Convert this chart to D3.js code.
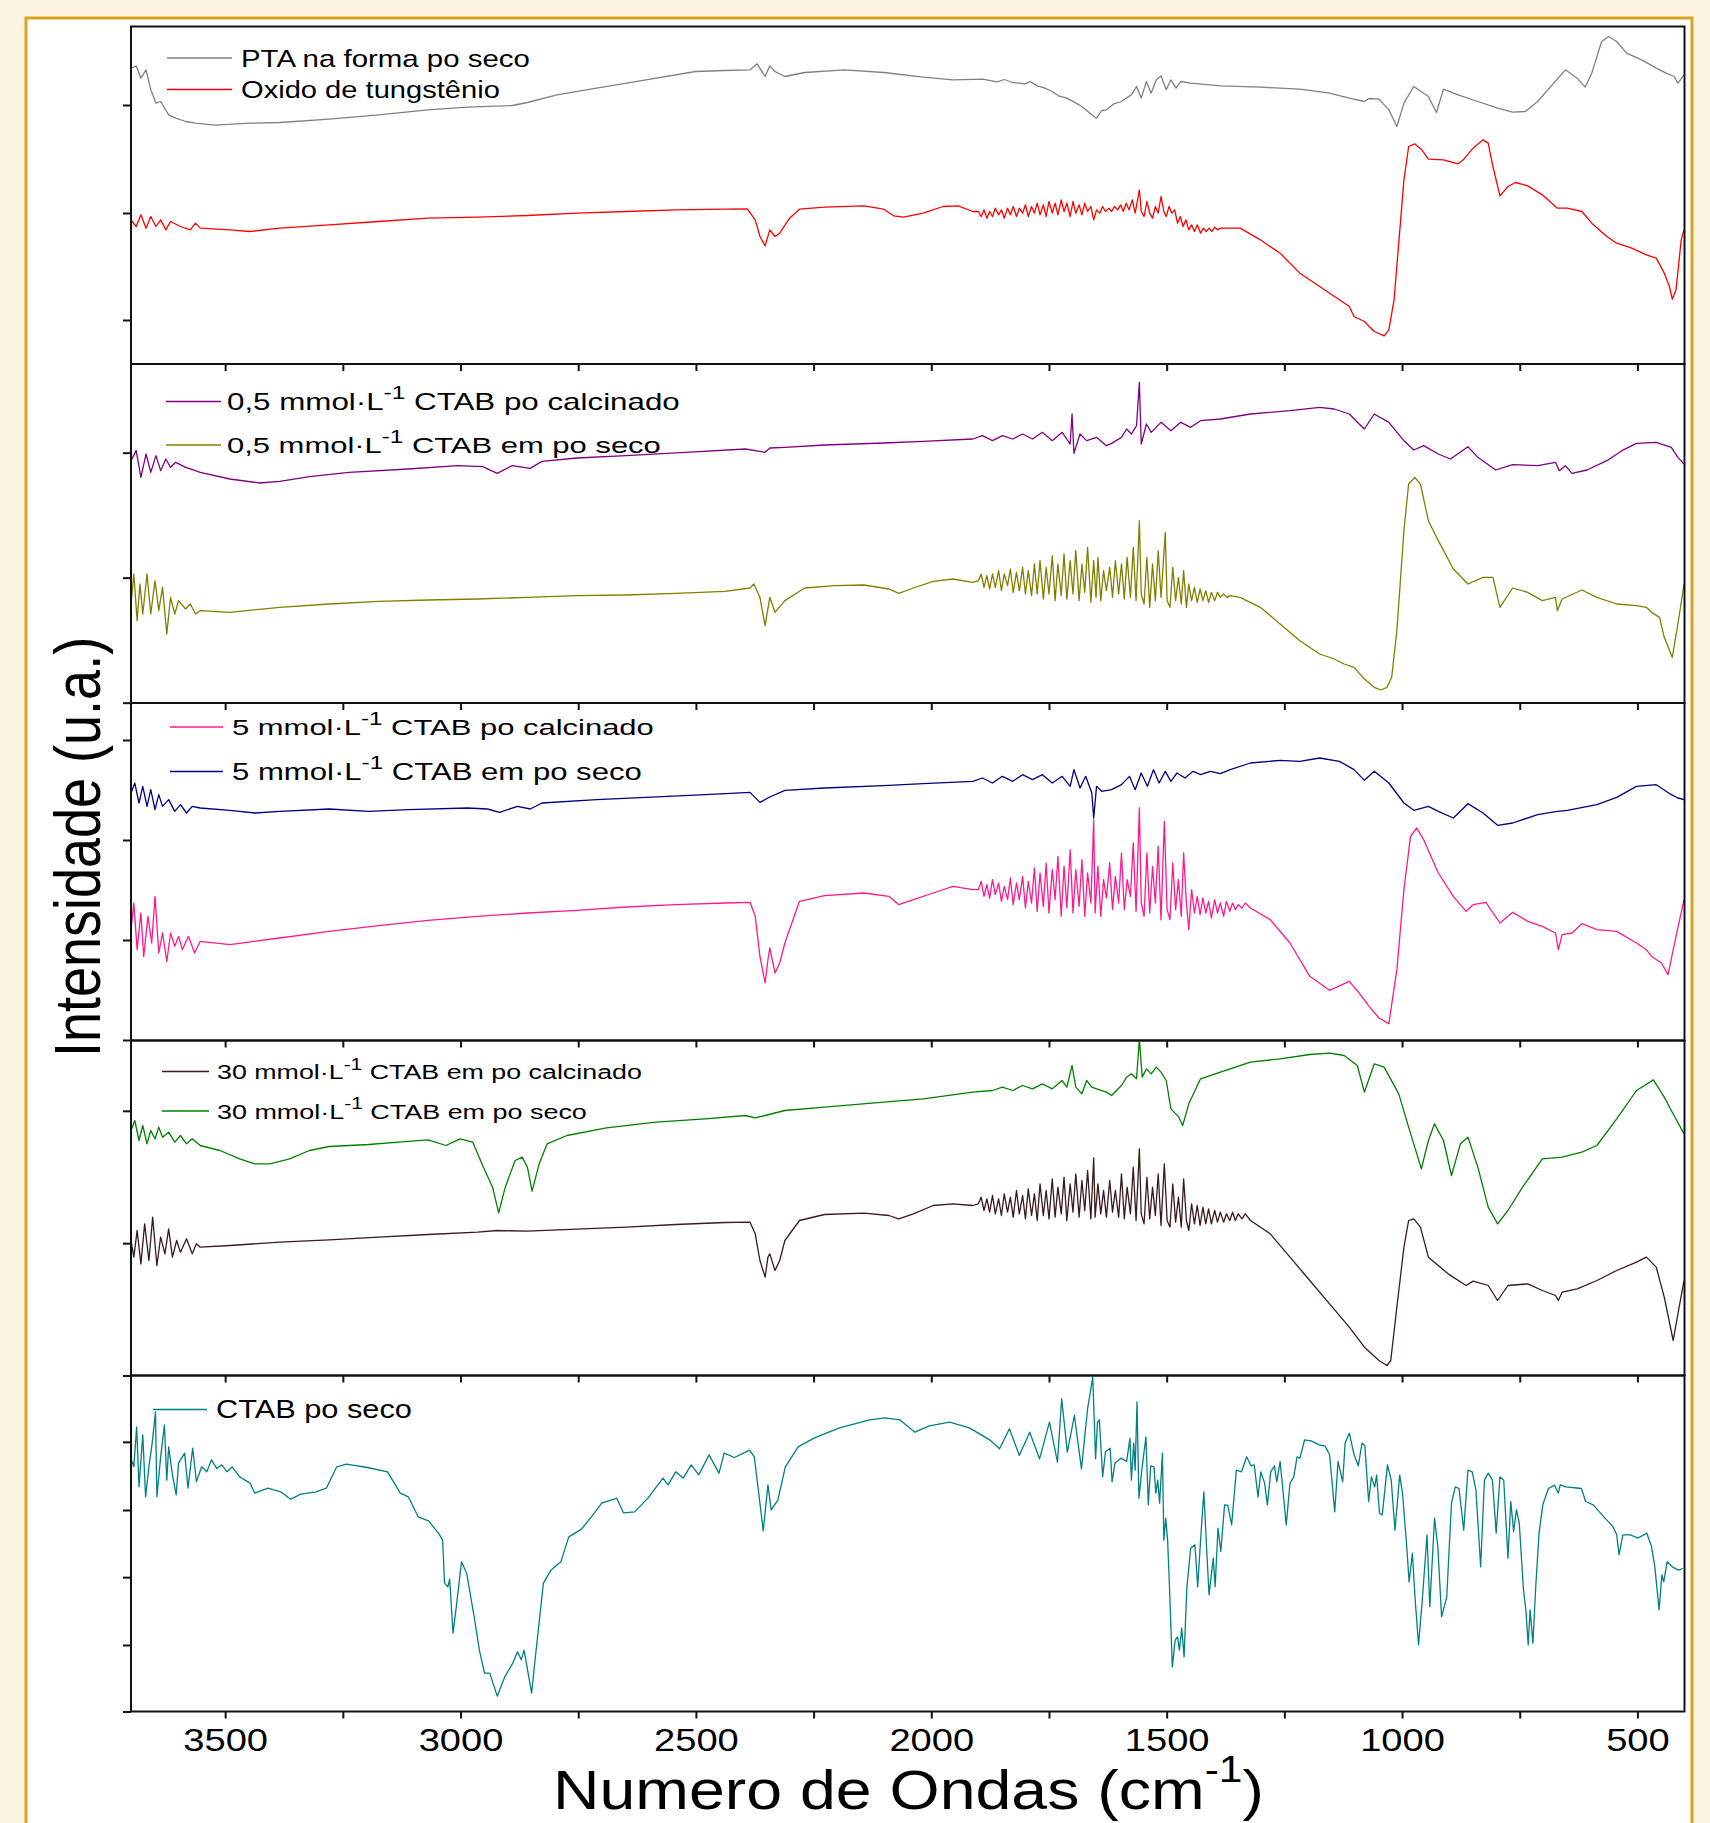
<!DOCTYPE html>
<html><head><meta charset="utf-8">
<script src="https://cdn.jsdelivr.net/npm/d3@7"></script>
<style>
html,body{margin:0;padding:0;background:#fbf4e2;}
svg{display:block;}
text{font-family:"Liberation Sans",Arial,sans-serif;fill:#000;}
</style></head><body>
<svg id="chart" width="1710" height="1823"></svg>
<script>
// ---------------- DATA (wavenumber cm-1, intensity a.u.) ----------------
const xDomain = [3700, 400];
const xTickValues = [3500,3250,3000,2750,2500,2250,2000,1750,1500,1250,1000,750,500];
const xTickLabels = [3500,3000,2500,2000,1500,1000,500];
const yTicksP1 = [11.95, 44.05, 76.45];
const yTicksP2 = [-1.6, 35.9, 73.4];
const yTicksP3 = [-1.1, 28.9, 58.9, 88.9];
const yTicksP4 = [-0.5, 39.2, 78.9];
const yTicksP5 = [-0.8, 19.15, 39.5, 59.65, 80.1];

const ptaSeco = [[3700,87.5],[3689,88.2],[3679,84.5],[3668,87],[3658,81],[3647,77],[3637,77.5],[3620,73.5],[3605,72.5],[3584,71.5],[3563,71],[3521,70.4],[3448,71],[3384,71.2],[3279,72.2],[3174,73.5],[3069,75],[2985,75.8],[2890,76.3],[2858,77.2],[2795,79.5],[2711,81.5],[2606,84],[2501,86.5],[2438,86.8],[2385,87],[2370,88.8],[2353,85],[2343,88.2],[2332,86.5],[2311,85],[2269,86.2],[2185,87],[2101,86.2],[2017,84.8],[1954,84],[1891,84.2],[1860,83.4],[1845,84.1],[1827,83.2],[1800,82.8],[1790,83.5],[1775,82.2],[1760,81.6],[1743,80.5],[1730,79.2],[1712,78.5],[1700,77.6],[1680,76],[1668,74.6],[1659,73.5],[1649,72.5],[1638,74.8],[1628,75],[1612,76.8],[1596,77.5],[1585,78.6],[1575,79.5],[1564,82],[1554,78.5],[1543,83.5],[1533,80],[1522,84],[1512,85.2],[1501,81],[1491,84],[1480,81.5],[1470,83.5],[1449,83],[1386,82.2],[1301,81.8],[1217,81.2],[1154,80],[1112,78.5],[1080,77.5],[1070,78.4],[1049,78.2],[1028,75],[1011,70],[996,77],[975,82],[944,79],[927,74.2],[912,81.2],[881,79.5],[839,77.5],[797,75.5],[765,74.3],[738,74.5],[712,77.5],[681,82.5],[653,87],[628,84.5],[611,81.8],[597,86],[576,95.5],[561,97],[544,95.5],[523,92],[491,90],[460,87.5],[439,86],[422,85],[414,83],[401,85.5]];

const oxidoTungstenio = [[3700,42],[3689,40],[3679,43.5],[3668,39.5],[3658,43],[3647,40],[3637,42],[3626,39],[3616,41.5],[3595,40],[3574,39],[3563,41],[3553,39.5],[3490,39],[3448,38.5],[3384,39.5],[3279,40.5],[3174,41.5],[3069,42.5],[2964,42.8],[2858,43.3],[2753,44],[2648,44.5],[2543,45],[2438,45.2],[2391,45.3],[2374,42],[2364,37],[2353,34.2],[2343,39],[2332,37],[2322,38],[2301,42.5],[2280,45.2],[2227,45.8],[2143,46.2],[2101,45.2],[2080,43.2],[2059,42.8],[2017,44],[1975,46],[1943,46.2],[1912,44.5],
[1900,44.5],[1894,43],[1888,45],[1882,42.5],[1876,44.5],[1870,43],[1864,45.5],[1857,43.5],[1851,45],[1845,42.5],[1838,45.5],[1832,43.5],[1826,46],[1819,43],[1813,45.5],[1806,44],[1800,46.5],[1794,43],[1787,46],[1781,44],[1775,47],[1769,43.5],[1762,46.5],[1756,43],[1750,47.5],[1743,44],[1737,47],[1731,43.5],[1724,48],[1718,44.5],[1712,47],[1705,43],[1699,47.5],[1693,44],[1686,46.5],[1680,43.5],[1674,47],[1668,44.5],[1661,46],[1655,42],[1649,45],[1642,44],[1636,46],[1630,44.5],[1623,45.5],[1617,44.5],[1611,46],[1604,45],[1598,46.5],[1592,44.5],[1586,47],[1580,45],[1573,48],[1567,44],[1561,48.5],[1558,51],[1554,44.5],[1548,43],[1542,47.5],[1536,44],[1530,42.5],[1524,46],[1518,44],[1512,49],[1506,44.5],[1501,43],[1495,46],[1489,44],[1483,45],[1477,41],[1471,43],[1465,40],[1459,42],[1453,39],[1447,40.5],[1441,38.5],[1435,40.5],[1428,38],[1422,39.5],[1416,38.5],[1410,39.5],[1404,38.5],[1398,39.8],[1392,39],[1386,39.5],
[1344,39.5],[1301,36],[1259,32],[1217,26],[1175,22],[1133,18],[1112,16],[1102,13],[1080,11.5],[1059,8.5],[1038,7.2],[1028,9],[1017,18],[1007,35],[996,54],[986,64],[973,64.8],[958,63],[944,60.2],[912,60],[881,58.8],[870,60],[849,63.5],[828,66],[817,65],[807,58],[792,49.2],[775,52],[759,53.2],[733,52.2],[702,49.5],[670,45.5],[649,45.5],[618,44.5],[597,41],[565,37],[544,35],[512,33.5],[481,31.5],[460,30.5],[443,26],[432,22],[426,18.2],[418,21],[407,36],[401,39]];

const ctab05Calc = [[3700,71],[3689,74],[3679,66],[3668,73],[3658,67.5],[3647,72.5],[3637,68],[3626,71.5],[3616,69],[3605,70.5],[3584,69],[3563,68],[3553,67.5],[3490,65.5],[3426,64.3],[3384,64.8],[3321,66.2],[3237,67.5],[3111,68.5],[3006,69.5],[2953,69.2],[2922,67.2],[2890,69.5],[2852,68.7],[2827,70.8],[2753,71.8],[2648,72.5],[2522,73.5],[2395,74.5],[2353,73.5],[2343,74.8],[2311,75],[2227,75.7],[2101,76.3],[2017,76.8],[1912,77.5],[1891,78.5],[1870,77],[1849,78.5],[1827,77.5],[1806,79],[1785,77.5],[1764,79.5],[1743,77],[1722,79.5],[1705,76],[1701,85],[1697,73.2],[1684,79],[1670,77],[1649,78],[1628,75.5],[1617,76.2],[1596,78],[1585,80.5],[1575,79],[1564,81.5],[1558,94.5],[1554,76],[1543,82],[1533,79.5],[1512,82.5],[1491,80],[1470,82.5],[1449,81],[1428,83],[1386,83.5],[1322,85],[1238,86],[1175,87],[1144,86.5],[1112,85],[1091,82],[1080,80.5],[1059,85],[1028,82.5],[996,77],[975,74.2],[954,75.5],[923,73],[897,71.5],[860,75.2],[839,72],[801,68.2],[765,69.8],[712,69.5],[674,70.5],[666,68],[653,69.5],[639,67.2],[607,68.2],[565,71],[533,74],[502,76.2],[460,76.5],[428,75],[414,72],[401,70]];

const ctab05Seco = [[3700,28],[3694,37],[3687,23],[3681,34],[3675,25],[3666,37],[3658,25],[3649,35],[3641,26],[3633,33],[3624,19],[3616,30],[3607,25],[3599,29],[3584,26.5],[3574,28],[3563,25],[3553,26],[3490,25.5],[3384,27],[3279,28],[3174,28.8],[3069,29.2],[2964,29.5],[2858,30],[2753,30.5],[2648,30.7],[2543,31.2],[2438,31.8],[2385,32.8],[2377,34],[2364,30],[2353,21.5],[2343,30],[2332,25.5],[2311,29],[2269,32.8],[2206,33.5],[2143,33.7],[2090,32.5],[2069,31.2],[2038,32.8],[1996,34.8],[1954,35.5],[1912,34.5],
[1900,35],[1894,37],[1888,33],[1882,36.5],[1876,32.5],[1870,37],[1864,33],[1857,38],[1851,32],[1845,37],[1838,33.5],[1832,38.5],[1826,31.5],[1819,37.5],[1813,32],[1806,39],[1800,31],[1794,38],[1787,30.5],[1781,40],[1775,31],[1769,41],[1762,29.5],[1756,39],[1750,31],[1743,42.5],[1737,29],[1731,40],[1724,30.5],[1718,43],[1712,29.5],[1705,41],[1699,31],[1693,44],[1686,29],[1680,40],[1674,31.5],[1668,45],[1661,28.5],[1655,41],[1650,30],[1646,42],[1640,29],[1634,38],[1628,32],[1621,39],[1615,30],[1609,41],[1602,31],[1596,40],[1590,29.5],[1584,42],[1577,30],[1571,45],[1565,29],[1558,53],[1554,31],[1548,28],[1542,42],[1536,27],[1530,40],[1524,29],[1518,44],[1512,30],[1503,49.5],[1499,29],[1493,27],[1487,39],[1481,29],[1475,36],[1469,28],[1464,38],[1458,27],[1453,34],[1447,29],[1441,33],[1435,28.5],[1429,32.5],[1423,29],[1417,32],[1411,28.5],[1405,31.5],[1398,29],[1392,31.5],[1386,30],[1379,31],[1372,30],[1365,30.5],
[1344,30],[1301,27],[1259,22],[1217,17],[1175,13],[1144,11.5],[1123,10],[1102,9],[1080,5.5],[1059,3],[1045,2.2],[1032,3],[1022,6],[1011,20],[996,50],[986,64],[973,66],[961,64],[944,53],[923,47],[891,38.5],[860,34],[828,36],[807,36],[792,27],[765,32.8],[733,31.5],[702,29],[674,30],[670,26],[660,29.5],[618,32.2],[586,30],[544,28],[502,27.5],[481,27],[470,25.5],[453,24],[443,18],[426,12],[414,22],[401,34]];

const ctab5Seco = [[3700,73],[3692,76],[3683,70],[3675,75],[3666,69],[3658,74],[3649,68],[3641,72.5],[3633,69],[3620,71],[3607,67.5],[3595,69.5],[3582,67],[3570,69],[3553,68.5],[3490,67.8],[3437,67],[3384,67.5],[3279,68.2],[3195,67.5],[3111,68],[2985,68.5],[2943,68.2],[2917,67.2],[2879,69],[2852,68.2],[2827,70],[2711,71],[2606,71.7],[2480,72.5],[2385,73.2],[2364,70.2],[2343,71.8],[2311,73.8],[2227,74.5],[2101,75.2],[2017,75.8],[1912,76.5],[1891,77.5],[1870,76],[1849,78],[1827,76.5],[1806,78.5],[1785,77],[1764,78.5],[1743,76],[1722,78],[1705,75],[1697,80],[1684,74.5],[1672,78],[1659,73],[1655,65.5],[1649,75],[1638,73.5],[1617,74],[1596,75.5],[1579,78],[1567,74],[1554,79],[1541,75],[1528,80],[1516,76],[1503,79.5],[1491,76.5],[1478,79],[1461,77.5],[1444,79.5],[1428,78.5],[1407,79.5],[1386,78.8],[1365,80],[1322,82],[1259,82.8],[1217,82.5],[1175,83.5],[1133,82.5],[1102,80],[1080,76.8],[1059,79.5],[1028,76],[996,70],[975,67.8],[944,69],[923,67.5],[891,65.5],[860,69.8],[828,67],[797,63.3],[765,64],[712,66.5],[670,67.5],[649,67.8],[586,69.5],[544,71.7],[502,75],[460,75.5],[428,72.5],[414,71.5],[401,71]];

const ctab5Calc = [[3700,32],[3694,40],[3687,26],[3679,37],[3673,24],[3664,36],[3656,28],[3649,42],[3641,25],[3633,31],[3624,22.5],[3616,31],[3607,27],[3599,30],[3591,26],[3578,30],[3565,25],[3553,28.5],[3490,27.5],[3384,29.5],[3279,31.5],[3174,33.2],[3069,34.8],[2964,36],[2858,37],[2753,37.8],[2648,38.8],[2543,39.5],[2438,40],[2385,40.2],[2374,36],[2364,24],[2353,16],[2347,23],[2343,26.5],[2332,19],[2322,22],[2311,28],[2280,40.5],[2227,42.2],[2143,43],[2090,42],[2069,39.5],[2038,41],[1996,43],[1954,45],[1912,44],
[1900,44],[1894,46.5],[1888,42],[1882,45.5],[1876,41.5],[1870,47],[1864,42.5],[1857,46],[1851,40.5],[1845,45],[1838,41],[1832,47.5],[1826,39.5],[1819,46],[1813,41],[1806,48],[1800,38.5],[1794,46.5],[1787,40],[1781,50.5],[1775,37.5],[1769,49],[1762,39],[1756,52],[1750,37],[1743,50],[1737,41],[1731,54],[1724,36],[1718,51],[1712,38.5],[1705,56],[1699,37],[1693,50],[1686,39],[1680,53],[1674,36],[1668,49],[1661,40],[1655,65],[1652,37],[1646,51],[1640,36],[1634,47],[1628,41.5],[1621,52],[1615,38],[1609,48],[1602,40],[1596,55],[1590,38],[1584,47],[1577,42],[1571,58],[1565,37.5],[1558,68.5],[1554,40],[1548,36],[1542,55],[1536,37],[1530,51],[1524,40],[1518,57],[1512,35],[1505,64.5],[1499,38],[1493,35],[1487,52],[1481,38],[1475,47],[1469,36],[1464,55],[1458,40],[1453,32],[1447,44],[1441,37],[1435,42],[1429,36.5],[1423,41.5],[1417,37],[1411,40.5],[1405,35.5],[1398,41],[1392,37],[1386,40],[1379,36],[1373,40.5],[1366,37.5],[1360,40],[1354,38],[1348,39.5],[1340,38.5],[1333,40],[1322,38.5],
[1280,35],[1238,28],[1196,18],[1154,13.8],[1112,16.5],[1091,13],[1070,9],[1049,5.5],[1028,3.8],[1011,20],[996,44],[982,60],[969,62.5],[954,59],[923,49],[891,42],[864,37.5],[849,39.5],[822,40.2],[792,34],[765,37.2],[733,34.5],[702,33],[674,31],[668,26],[660,30.5],[639,31],[618,33.8],[586,32],[544,31.5],[502,28],[481,26],[470,24],[449,22],[435,18.5],[418,30],[401,41]];

const ctab30Seco = [[3700,73],[3692,76],[3683,70],[3675,74.5],[3666,69],[3658,73],[3649,70.5],[3641,74],[3633,71],[3620,72.5],[3607,69.5],[3595,71.5],[3582,69],[3570,70.5],[3553,68.5],[3511,67],[3469,64.5],[3437,63],[3405,63],[3363,64.5],[3321,67],[3279,68.2],[3195,68.8],[3132,69.5],[3069,70.2],[3031,68.5],[3001,70.5],[2974,69.5],[2953,62.5],[2932,56],[2919,48.3],[2905,56],[2884,64],[2869,65],[2858,62],[2848,54.8],[2833,63],[2816,69],[2774,71.5],[2690,73.8],[2585,75.5],[2480,76.5],[2395,77.5],[2374,76.8],[2353,77.5],[2311,79],[2227,80],[2101,81.5],[2017,82.5],[1912,84.5],[1870,85],[1849,86],[1827,85],[1806,86.5],[1785,85.5],[1764,87],[1743,85.5],[1722,88],[1712,86],[1701,92.5],[1693,86],[1680,84],[1670,88],[1659,86],[1649,85.5],[1628,84.5],[1617,83.5],[1596,86.5],[1585,89],[1575,90],[1564,88.5],[1558,100.5],[1552,89],[1543,91.5],[1533,90],[1522,92],[1512,90.5],[1501,88],[1491,79.5],[1474,77],[1466,74.5],[1453,81],[1428,88.5],[1386,90.5],[1322,93.5],[1259,94.5],[1196,95.8],[1154,96.2],[1123,95.5],[1095,92.5],[1080,84.5],[1059,93],[1038,92],[1007,84],[986,74],[959,61.5],[944,70],[931,75],[912,70],[895,59.5],[876,69],[860,71],[839,62],[817,50],[797,45],[775,49],[744,56],[702,64.5],[660,65],[618,66.5],[586,68.5],[544,76.5],[502,85],[466,88.2],[443,83],[428,79],[401,72]];

const ctab30Calc = [[3700,40],[3694,35],[3687,43],[3679,33],[3671,45],[3662,34],[3654,47],[3645,32.5],[3637,41],[3628,36],[3620,43.5],[3612,35],[3603,40],[3595,36.5],[3582,40.5],[3570,36],[3561,39],[3553,38],[3490,38.5],[3384,39.5],[3279,40.2],[3174,41],[3069,41.8],[2964,42.5],[2922,43],[2858,42.8],[2753,43.4],[2648,44],[2543,44.8],[2438,45.4],[2385,45.5],[2374,42],[2364,34],[2353,29],[2347,35],[2343,36],[2332,31],[2322,34],[2311,40],[2280,46],[2227,47.8],[2143,48.2],[2090,47.5],[2069,46.5],[2038,48],[1996,50.5],[1954,51],[1912,50.5],
[1900,51],[1894,53],[1888,49],[1882,52.5],[1876,48.5],[1870,53.5],[1864,48],[1857,52.5],[1851,47.5],[1845,54],[1838,48.5],[1832,53],[1826,47],[1819,55],[1813,48],[1806,53.5],[1800,46.5],[1794,55.5],[1787,47.5],[1781,54],[1775,46],[1769,57],[1762,47.5],[1756,55],[1750,46.5],[1743,58.5],[1737,47],[1731,56],[1724,48],[1718,59],[1712,46],[1705,57],[1699,48.5],[1693,60],[1686,47],[1680,58],[1674,49],[1668,61],[1661,46.5],[1655,64.8],[1652,47],[1646,57],[1640,48],[1634,55],[1628,47],[1621,58],[1615,48.5],[1609,55],[1602,47],[1596,60],[1590,46.5],[1584,56],[1577,48],[1571,62],[1565,46],[1558,67.5],[1554,48],[1548,45],[1542,59],[1536,46.5],[1530,56],[1524,47.5],[1518,60],[1512,44.5],[1505,63],[1499,46],[1493,44],[1487,57],[1481,45.5],[1475,53],[1469,44],[1464,58.5],[1458,46],[1453,43],[1447,51],[1441,45],[1435,50.5],[1429,44.5],[1423,50],[1417,45],[1411,49.5],[1405,45],[1398,49],[1392,45.5],[1386,48.5],[1379,45.5],[1373,48],[1366,46],[1360,48.5],[1354,46],[1348,48],[1340,46.5],[1333,48],[1322,46],
[1280,42],[1238,35],[1196,28],[1154,21],[1112,14],[1080,8],[1049,4],[1032,2.5],[1024,4],[1011,20],[996,38],[986,46],[975,46.5],[961,44],[944,35],[902,30],[864,26.5],[849,27.8],[817,26.5],[797,22],[775,26.5],[733,27],[702,25],[674,23.5],[668,22],[660,24.5],[628,25.5],[586,28],[544,31],[502,33.5],[481,35],[460,32],[443,23],[424,10],[414,18],[401,28]];

const ctabSeco = [[3700,75],[3694,72.6],[3688,84.6],[3683,66.6],[3675,82.2],[3669,63.6],[3662,72.6],[3655,79.7],[3648,89.1],[3645,63.6],[3637,75.6],[3629,85.2],[3624,68.6],[3620,78.6],[3612,70.2],[3604,64.2],[3599,73.7],[3586,76.7],[3579,66.2],[3569,78.2],[3561,68.1],[3550,72.6],[3539,71.1],[3529,74.7],[3518,72.1],[3507,73.2],[3496,71.1],[3485,72.6],[3469,69.6],[3447,67.7],[3437,64.7],[3409,66.2],[3382,65.1],[3361,62.9],[3339,64.4],[3307,65.1],[3285,66.2],[3263,72.6],[3242,73.4],[3198,72.4],[3155,71.1],[3128,64.7],[3111,63.6],[3090,57.6],[3068,56.4],[3047,52.7],[3038,50.6],[3034,37.7],[3027,36.6],[3023,38.9],[3016,22.7],[3009,30.6],[2998,44.1],[2987,40.7],[2971,27.6],[2960,17.6],[2949,10.7],[2938,10.7],[2922,3.8],[2906,9.6],[2889,13.7],[2879,17.1],[2871,14.7],[2865,17.6],[2849,4.7],[2841,15.6],[2824,37.7],[2808,41.6],[2787,44.1],[2770,51.6],[2743,53.9],[2722,57.6],[2700,61.7],[2668,63.2],[2654,58.8],[2630,59.1],[2602,63.2],[2570,69.2],[2559,67.2],[2543,71.1],[2527,69.2],[2510,73.2],[2494,70.2],[2472,76.2],[2451,70.7],[2440,76.7],[2418,75.4],[2386,77.6],[2376,75.6],[2364,61.7],[2357,53.4],[2351,61.7],[2347,67.2],[2340,59.7],[2326,62.6],[2310,72.6],[2283,78.6],[2248,81.3],[2195,84.3],[2131,86.7],[2099,87.3],[2067,86.7],[2035,83],[2004,84.9],[1961,86],[1919,84.3],[1876,80.7],[1855,78],[1834,84],[1813,76],[1791,83],[1770,75],[1749,86],[1732,74],[1723,93],[1711,77],[1696,88],[1681,72],[1668,90],[1657,99.5],[1651,75],[1647,86],[1643,86.7],[1636,69.6],[1630,77.1],[1620,78.2],[1616,68.1],[1610,73.7],[1597,75.2],[1585,74.2],[1578,81.2],[1575,68.6],[1570,79.7],[1567,71.6],[1563,92.1],[1559,63.2],[1552,72.6],[1544,81.6],[1539,61.2],[1534,72.9],[1527,72.6],[1523,64.7],[1519,68.6],[1515,61.7],[1509,76.7],[1506,50.6],[1502,57.2],[1498,50.6],[1494,36.6],[1488,12.6],[1482,20.6],[1477,21.6],[1473,17.6],[1468,24.2],[1463,15.6],[1457,36.6],[1449,48.2],[1440,49.2],[1434,36.6],[1428,50.6],[1421,65.1],[1416,50.6],[1410,34.2],[1401,45.2],[1397,36.6],[1391,54.2],[1385,47.2],[1377,61.2],[1370,61],[1362,55.2],[1352,71.6],[1341,71.1],[1330,75.6],[1321,72.9],[1314,73.2],[1306,63.6],[1300,71.1],[1292,67.7],[1286,61.2],[1279,71.1],[1271,72.9],[1266,68.1],[1259,74.2],[1246,55.2],[1238,67.7],[1230,69.6],[1223,75.6],[1217,75.2],[1207,80.7],[1193,80.4],[1176,79.2],[1164,78.9],[1154,76.3],[1149,68.6],[1143,59.1],[1136,74.2],[1126,68.1],[1121,79.7],[1112,82.7],[1102,76.3],[1093,72.9],[1085,79.7],[1079,78.9],[1071,62.2],[1065,69.6],[1058,66.6],[1054,70.2],[1048,58.7],[1042,58.2],[1031,73.2],[1023,68.6],[1015,53.6],[1005,70.1],[999,64.7],[990,48.6],[985,38.1],[978,46.7],[972,32.6],[965,19.2],[957,32.6],[947,52.2],[941,30.6],[931,57.2],[924,48.6],[916,27.6],[905,33.6],[895,61.7],[887,66.6],[879,66.1],[869,53.6],[860,71.6],[851,71.1],[843,65.6],[833,42.6],[825,68.6],[817,70.7],[808,68.6],[800,52.7],[792,69.6],[784,68.6],[775,45.2],[769,62.2],[763,53.2],[757,59.7],[751,55.7],[742,35.6],[737,29.7],[732,19.2],[728,29.7],[722,19.7],[716,36.6],[709,52.7],[701,61.2],[689,66.1],[676,67.1],[668,64.7],[664,67.2],[652,66.6],[619,66.1],[610,62.2],[594,61.2],[569,57.2],[552,54.7],[544,52.2],[539,46.2],[531,52.2],[515,52.2],[499,51.2],[480,52.7],[470,48.6],[463,42.6],[454,29.7],[448,40.2],[444,38.1],[437,44.1],[426,42.6],[413,41.6],[404,42.1]];

// ---------------- LAYOUT ----------------
const W = 1710, H = 1823;
const plotLeft = 131, plotRight = 1684.5;
const panelEdges = [26.5, 364, 703, 1040.5, 1375.5, 1711.5];
const unitPerPx = 0.3;
const SX = 1.19; // horizontal text stretch of the original figure

const panels = [
  {ticks: yTicksP1, font: 24, lx1: 167, lx2: 232, tx: 241, series: [
    {data: ptaSeco, color: "#808080", pre: "PTA na forma po seco", sup: null, post: "", ly: 58, tw: 289},
    {data: oxidoTungstenio, color: "#ff0000", pre: "Oxido de tungstênio", sup: null, post: "", ly: 89.5, tw: 259}]},
  {ticks: yTicksP2, font: 23, lx1: 166, lx2: 221, tx: 227, series: [
    {data: ctab05Calc, color: "#800080", pre: "0,5 mmol·L", sup: "-1", post: " CTAB  po calcinado", ly: 401.5, tw: 453},
    {data: ctab05Seco, color: "#808000", pre: "0,5 mmol·L", sup: "-1", post: " CTAB em po seco", ly: 445, tw: 434}]},
  {ticks: yTicksP3, font: 23, lx1: 170, lx2: 223, tx: 232, series: [
    {data: ctab5Calc, color: "#ff1a8c", pre: "5 mmol·L", sup: "-1", post: " CTAB po calcinado", ly: 727, tw: 422},
    {data: ctab5Seco, color: "#000080", pre: "5 mmol·L", sup: "-1", post: " CTAB em po seco", ly: 771.5, tw: 410}]},
  {ticks: yTicksP4, font: 21, lx1: 162, lx2: 209, tx: 217, series: [
    {data: ctab30Calc, color: "#3b1a1a", pre: "30 mmol·L", sup: "-1", post: " CTAB em po calcinado", ly: 1071.5, tw: 425},
    {data: ctab30Seco, color: "#008000", pre: "30 mmol·L", sup: "-1", post: " CTAB em po seco", ly: 1111, tw: 370}]},
  {ticks: yTicksP5, font: 25, lx1: 153, lx2: 207, tx: 216, series: [
    {data: ctabSeco, color: "#008080", pre: "CTAB po seco", sup: null, post: "", ly: 1409.5, tw: 196}]}
];

const svg = d3.select("#chart");
svg.append("rect").attr("width", W).attr("height", H).attr("fill", "#fbf4e2");
svg.append("rect").attr("x", 26).attr("y", 18).attr("width", 1666).attr("height", 1840)
   .attr("fill", "#ffffff").attr("stroke", "#d9a521").attr("stroke-width", 3);

const x = d3.scaleLinear().domain(xDomain).range([plotLeft, plotRight]);
const defs = svg.append("defs");

function stretch(sel, ax, target) {
  const w = sel.node().getBBox().width;
  const s = target ? target / w : SX;
  sel.attr("transform", `translate(${ax},0) scale(${s},1) translate(${-ax},0)`);
}

panels.forEach((p, i) => {
  const top = panelEdges[i], bottom = panelEdges[i + 1];
  const vBottom = 100 - (bottom - top) * unitPerPx;
  const y = d3.scaleLinear().domain([vBottom, 100]).range([bottom, top]);
  const g = svg.append("g");

  defs.append("clipPath").attr("id", "clip" + i).append("rect")
    .attr("x", plotLeft).attr("y", top).attr("width", plotRight - plotLeft).attr("height", bottom - top);

  // legend
  p.series.forEach(s => {
    g.append("line").attr("x1", p.lx1).attr("x2", p.lx2).attr("y1", s.ly).attr("y2", s.ly)
      .attr("stroke", s.color).attr("stroke-width", 1.5);
    const t = g.append("text").attr("x", p.tx).attr("y", s.ly + p.font * 0.36).attr("font-size", p.font);
    t.append("tspan").text(s.pre);
    if (s.sup) {
      t.append("tspan").attr("dy", -p.font * 0.45).attr("font-size", p.font * 0.78).text(s.sup);
      t.append("tspan").attr("dy", p.font * 0.45).attr("font-size", p.font).text(s.post);
    }
    stretch(t, p.tx, s.tw);
  });

  // curves
  const line = d3.line().x(d => x(d[0])).y(d => y(d[1]));
  p.series.forEach(s => {
    const data = d3.sort(s.data, (a, b) => b[0] - a[0]);
    g.append("path").datum(data).attr("d", line).attr("fill", "none")
      .attr("stroke", s.color).attr("stroke-width", 1.3).attr("stroke-linejoin", "round")
      .attr("clip-path", `url(#clip${i})`);
  });

  // frame
  g.append("rect").attr("x", plotLeft).attr("y", top).attr("width", plotRight - plotLeft).attr("height", bottom - top)
    .attr("fill", "none").attr("stroke", "#111").attr("stroke-width", 2);

  // y ticks
  const ya = g.append("g").attr("transform", `translate(${plotLeft},0)`)
    .call(d3.axisLeft(y).tickValues(p.ticks).tickSize(8).tickFormat(""));
  ya.select(".domain").remove();
  ya.selectAll(".tick line").attr("stroke", "#111").attr("stroke-width", 2);

  // x ticks
  const isLast = i === panels.length - 1;
  const xa = g.append("g").attr("transform", `translate(0,${bottom})`)
    .call(d3.axisBottom(x).tickValues(xTickValues).tickSize(7).tickPadding(10)
      .tickFormat(d => (isLast && xTickLabels.includes(d)) ? String(d) : ""));
  xa.select(".domain").remove();
  xa.selectAll(".tick line").attr("stroke", "#111").attr("stroke-width", 2);
  xa.selectAll(".tick text").attr("font-size", 32).attr("fill", "#000")
    .attr("font-family", "'Liberation Sans', Arial, sans-serif")
    .attr("transform", `scale(${SX},1)`);
});

// axis titles
const xt = svg.append("text").attr("x", 553).attr("y", 1809).attr("font-size", 56);
xt.append("tspan").text("Numero de Ondas (cm");
xt.append("tspan").attr("dy", -27).attr("font-size", 37).text("-1");
xt.append("tspan").attr("dy", 27).attr("font-size", 56).text(")");
stretch(xt, 553, 711);

svg.append("text").attr("font-size", 54).attr("text-anchor", "middle")
  .attr("transform", `translate(100,847) scale(${SX},1) rotate(-90)`)
  .text("Intensidade (u.a.)");
</script>
</body></html>
